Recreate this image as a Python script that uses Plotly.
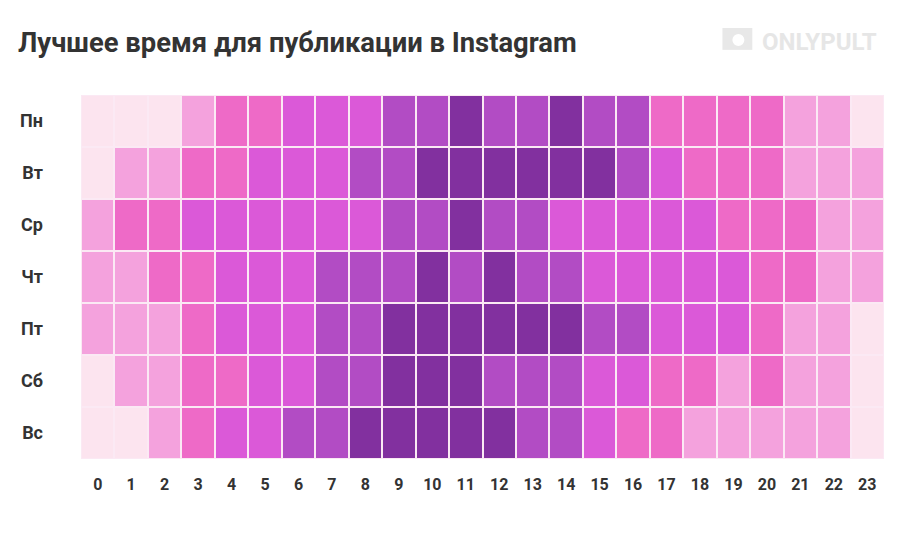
import plotly.graph_objects as go

# дни недели и часы
days = ["Пн", "Вт", "Ср", "Чт", "Пт", "Сб", "Вс"]
hours = [str(h) for h in range(24)]

# уровень активности (1 - низкий, 6 - высокий)
mon = [1, 1, 1, 2, 3, 3, 4, 4, 4, 5, 5, 6, 5, 5, 6, 5, 5, 3, 3, 3, 3, 2, 2, 1]
tue = [1, 2, 2, 3, 3, 4, 4, 4, 5, 5, 6, 6, 6, 6, 6, 6, 5, 4, 3, 3, 3, 2, 2, 2]
wed = [2, 3, 3, 4, 4, 4, 4, 4, 4, 5, 5, 6, 5, 5, 4, 4, 4, 4, 4, 3, 3, 3, 2, 2]
thu = [2, 2, 3, 3, 4, 4, 4, 5, 5, 5, 6, 5, 6, 5, 5, 4, 4, 4, 4, 4, 3, 3, 2, 2]
fri = [2, 2, 2, 3, 4, 4, 4, 5, 5, 6, 6, 6, 6, 6, 6, 5, 5, 4, 4, 4, 3, 2, 2, 1]
sat = [1, 2, 2, 3, 3, 4, 4, 5, 5, 6, 6, 6, 5, 5, 5, 4, 4, 3, 3, 2, 3, 2, 2, 1]
sun = [1, 1, 2, 3, 4, 4, 5, 5, 6, 6, 6, 6, 6, 5, 5, 4, 3, 3, 2, 2, 2, 2, 2, 1]

z = [mon, tue, wed, thu, fri, sat, sun]

palette = ["#fce4ef", "#f4a2dd", "#ee6ac7", "#db59d8", "#b24cc4", "#82309f"]
colorscale = []
n = len(palette)
for i, c in enumerate(palette):
    colorscale.append([i / n, c])
    colorscale.append([(i + 1) / n, c])

fig = go.Figure(go.Heatmap(
    z=z, x=hours, y=days,
    colorscale=colorscale, zmin=0.5, zmax=6.5,
    showscale=False, xgap=2, ygap=2,
    hovertemplate="%{y}, %{x}:00<extra></extra>",
))

fig.update_layout(
    width=919, height=545,
    paper_bgcolor="white", plot_bgcolor="#fbe9f4",
    margin=dict(l=71, r=43, t=87, b=94),
    font=dict(family="Roboto", color="#333333"),
    title=dict(text="<b>Лучшее время для публикации в Instagram</b>",
               x=0.0109, xanchor="left", y=0.9376, yanchor="middle",
               font=dict(size=27.4, color="#333333")),
)

fig.update_xaxes(showgrid=False, zeroline=False, ticks="",
                 tickfont=dict(size=16, color="#333333", family="Roboto", weight="bold"),
                 ticklabelstandoff=14)
fig.update_yaxes(showgrid=False, zeroline=False, ticks="", autorange="reversed",
                 tickfont=dict(size=18, color="#333333", family="Roboto", weight="bold"),
                 ticklabelstandoff=37)

# логотип
fig.add_shape(type="rect", xref="paper", yref="paper",
              x0=0.7988, x1=0.836, y0=1.124, y1=1.184,
              fillcolor="#e8e8e8", line=dict(width=0))
fig.add_shape(type="circle", xref="paper", yref="paper",
              x0=0.8112, x1=0.8261, y0=1.1346, y1=1.1676,
              fillcolor="white", line=dict(width=0))
fig.add_annotation(text="<b>ONLYPULT</b>", xref="paper", yref="paper",
                   x=0.846, y=1.145, xanchor="left", yanchor="middle",
                   showarrow=False,
                   font=dict(size=24, color="#e6e6e6", family="Roboto"))

fig.write_html("out.html")
